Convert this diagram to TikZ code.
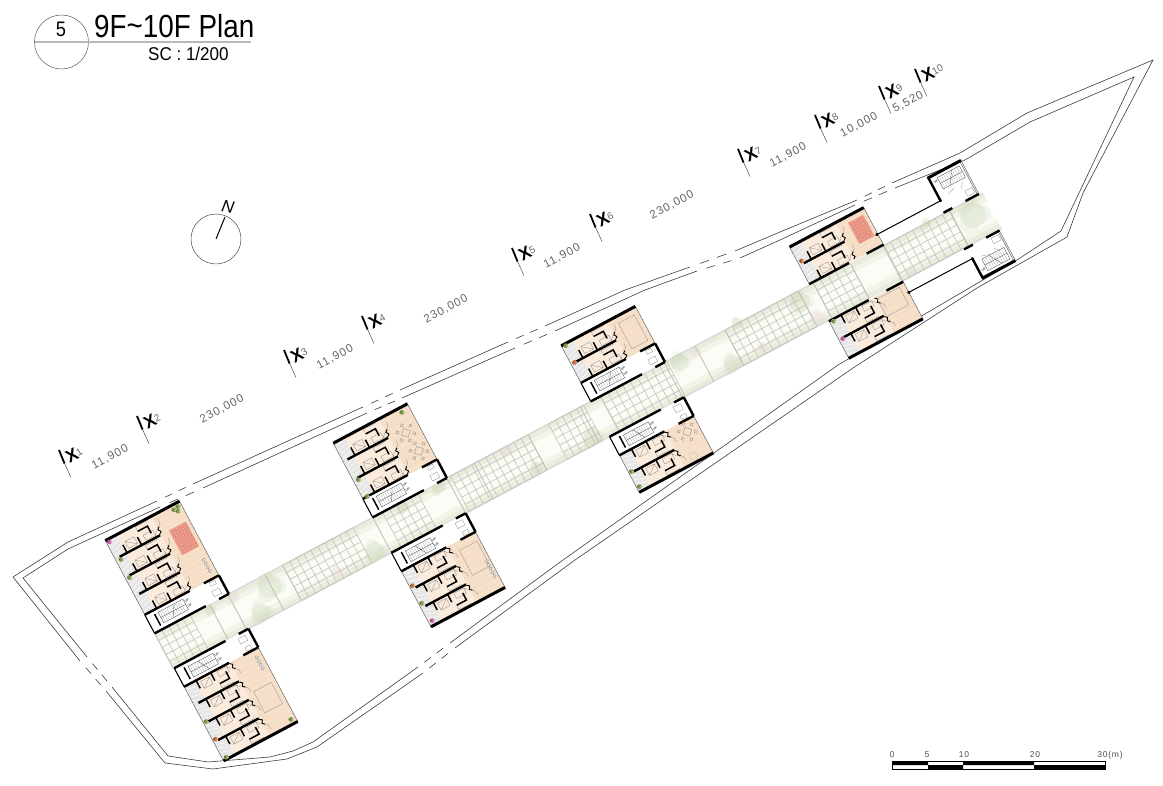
\documentclass[tikz,border=0pt]{standalone}
\usepackage{fontspec}
\setmainfont{Liberation Sans}
\newfontfamily\titlef[FakeStretch=0.87]{Liberation Sans}
\newfontfamily\subf[FakeStretch=0.92]{Liberation Sans}
\newfontfamily\dimf[LetterSpace=9]{Liberation Sans}
\usetikzlibrary{calc}
\definecolor{unitpeach}{HTML}{FBEBDC}
\definecolor{commonpeach}{HTML}{F7E0C9}
\definecolor{woodln}{HTML}{F0D5B8}
\definecolor{balc}{HTML}{E6E6E6}
\definecolor{bandmid}{HTML}{FBFCF6}
\definecolor{bandg}{HTML}{E9ECDC}
\definecolor{bandh}{HTML}{F2F4E9}
\definecolor{gridl}{HTML}{C2C2BA}
\definecolor{treeg}{HTML}{BCCAA4}
\definecolor{treep}{HTML}{E6CFD2}
\definecolor{bd}{HTML}{3C3C3C}
\definecolor{patchr}{HTML}{E99684}
\definecolor{plantg}{HTML}{7F9A4A}
\definecolor{plantp}{HTML}{C85FA0}
\definecolor{plantr}{HTML}{C9703A}
\tikzset{
  wall/.style={line width=2.4pt,black},
  farwall/.style={line width=3pt,black},
  stub/.style={line width=1.5pt,black},
  fine/.style={line width=.3pt,black!45},
  edgeln/.style={line width=.5pt,black!60},
  site/.style={line width=.6pt,bd},
  dimtxt/.style={rotate=28,font=\dimf\fontsize{11.5}{12}\selectfont,text=black!60,inner sep=0pt},
  axtxt/.style={rotate=28,font=\bfseries\fontsize{17.5}{17.5}\selectfont,inner sep=0pt},
  axnum/.style={rotate=28,font=\fontsize{10}{10}\selectfont,text=black!60,inner sep=0pt},
  tinytxt/.style={rotate=28,font=\fontsize{3.2}{3.2}\selectfont,inner sep=0pt}
}
% one dwelling row, #1 = its side nearest the corridor
\newcommand{\unitrow}[1]{
  \fill[unitpeach] (12,#1) rectangle (52,#1+21);
  \fill[balc] (0,#1) rectangle (12,#1+21);
  \foreach \q in {3,7.5,12,16.5}{\draw[white,line width=.5pt] (1,#1+\q) -- (11,#1+\q+3);}
  \draw[fine] (17,#1+3) rectangle (27,#1+11) (17,#1+11) -- (27,#1+3);
  \draw[fine] (36,#1+2) rectangle (47,#1+8) (47,#1+2) -- (50,#1+6);
  \draw[fine] (33,#1+14) -- (33,#1+19) -- (47,#1+19);
  \draw[stub] (13.5,#1) -- (13.5,#1+9);
  \draw[stub] (30,#1) -- (30,#1+9);
  \draw[stub] (33,#1+14) -- (44,#1+14) -- (44,#1+6);
  \draw[line width=.9pt] (51,#1+1) -- (53.5,#1+3) -- (51.5,#1+6) -- (54,#1+8);
  \draw[fine] (52,#1+8) arc[start angle=-90,end angle=20,radius=5];
}
\newcommand{\stairset}{
  \draw[line width=.35pt,black!70] (13,25) rectangle (41,37);
  \foreach \q in {15,17.5,...,39}{\draw[line width=.2pt,black!40] (\q,26) -- (\q,36);}
  \draw[line width=.3pt,black!70] (13,31) -- (41,31) (24,25) -- (31,37);
  \node[tinytxt] at (44,34) {UP};
  \node[tinytxt] at (44,28) {UP};
}
% #1 start along the corridor, #2 side, #3 rows, #4 1 = with stair band
\newcommand{\housing}[4]{
  \begin{scope}[shift={(#1,0)},yscale=#2]
    \ifnum#4=1 \def\bs{41}\else \def\bs{21}\fi
    \pgfmathsetmacro\bt{\bs+21*#3}
    \fill[white] (0,20) rectangle (84,\bt);
    \fill[commonpeach] (50,\bs) rectangle (84,\bt);
    \begin{scope}
      \clip (50,\bs) rectangle (84,\bt);
      \foreach \yy in {24,30,...,126}{\draw[woodln,line width=.25pt] (50,\yy) -- (84,\yy);}
    \end{scope}
    \foreach \i in {1,...,#3}{
      \pgfmathsetmacro\bz{\bs+21*(\i-1)}
      \unitrow{\bz}
    }
    \foreach \i in {2,...,#3}{
      \pgfmathsetmacro\bz{\bs+21*(\i-1)}
      \draw[wall] (5,\bz) -- (51,\bz);
    }
    \draw[edgeln] (0,20) -- (0,\bt) (84,20) -- (84,\bt);
    \draw[farwall] (0,\bt) -- (84,\bt);
    \ifnum#4=1
      \stairset
      \draw[wall] (0,\bs) -- (51,\bs);
      \draw[wall] (67,\bs) -- (84,\bs);
      \draw[wall] (84,20) -- (84,\bs);
      \draw[wall] (0,20) -- (58,20) (73,20) -- (84,20);
      \draw[line width=1pt] (0,20) -- (0,\bs);
      \draw[stub] (9,24) -- (9,37);
      \draw[fine] (70,24) rectangle (78,30) (72,35) rectangle (78,39);
    \else
      \draw[wall] (0,21) -- (45,21) (65,21) -- (84,21);
    \fi
  \end{scope}
}
% end stair core: #1 start, #2 side, #3 far wall
\newcommand{\corestair}[3]{
  \begin{scope}[shift={(#1,0)},yscale=#2]
    \draw[edgeln] (37,20) -- (37,#3) (35.5,20) -- (35.5,#3);
    \draw[farwall] (-1,#3) -- (37,#3);
    \draw[wall] (0,#3) -- (0,33);
    \draw[line width=1pt] (0,33) -- (-72,33);
    \fill (0,33) circle (1.6pt) (-72,33) circle (1.8pt);
    \draw[wall] (22,21) -- (37,21) (-3,21) -- (7,21);
    \draw[line width=.35pt,black!70] (8,#3-17) rectangle (33,#3-4);
    \foreach \q in {10,12.5,...,32}{\draw[line width=.2pt,black!40] (\q,#3-16) -- (\q,#3-5);}
    \draw[line width=.3pt,black!70] (8,#3-10.5) -- (33,#3-10.5) (16,#3-17) -- (24,#3-4);
    \draw[fine] (26,24) rectangle (34,30) (24,34) -- (28,39) (10,35) -- (18,38);
    \node[tinytxt] at (5,#3-7) {UP};
  \end{scope}
}
\newcommand{\pavegrid}[3]{% start, cells, cell length
  \begin{scope}[shift={(#1,-20)}]
    \foreach \k in {0,...,#2}{\draw[gridl,line width=.6pt] (\k*#3,0) -- (\k*#3,40);}
    \foreach \k in {0,8,...,40}{\draw[gridl,line width=.6pt] (0,\k) -- (#2*#3,\k);}
  \end{scope}
}
\newcommand{\treeblob}[4]{
  \fill[#4,opacity=.20] (#1,#2) circle (#3*.72);
  \fill[#4,opacity=.14] (#1+#3*.45,#2+#3*.2) circle (#3*.5) (#1-#3*.4,#2+#3*.3) circle (#3*.55)
     (#1,#2-#3*.5) circle (#3*.5) (#1-#3*.3,#2-#3*.35) circle (#3*.4);
}
\newcommand{\plant}[3]{
  \fill[#3] (#1,#2) circle (2.4pt);
  \fill[#3!60!white] (#1+1.4,#2+1) circle (1.2pt);
  \fill[#3!70!black] (#1-1.2,#2-.8) circle (1pt);
}
\newcommand{\bench}[3]{% a, b start, count
  \foreach \q in {1,...,#3}{\draw[line width=.4pt,black!40,fill=black!12] (#1,#2+\q*4.2) circle (1.8pt);}
}
\newcommand{\tabled}[4]{\draw[line width=.35pt,black!40] (#1,#2) rectangle (#3,#4);}
\newcommand{\roundset}[2]{
  \draw[line width=.35pt,black!45] (#1-5,#2) -- (#1,#2-5) -- (#1+5,#2) -- (#1,#2+5) -- cycle;
  \foreach \q in {30,90,...,330}{\draw[line width=.35pt,black!45] ($(#1,#2)+(\q:8.5)$) circle (1.7pt);}
}
\newcommand{\redpatch}[4]{
  \fill[patchr] (#1,#2) rectangle (#3,#4);
  \foreach \r in {0,1,...,5}{\foreach \s in {0,1,...,7}{
     \fill[white,opacity=.45] ($(#1+1.5,#2+1.5)+(\r*3.0,\s*3.3)$) circle (.5pt);
     \fill[red!55!black,opacity=.35] ($(#1+2.5,#2+3)+(\r*3.0,\s*3.0)$) circle (.45pt);}}
}
\newcommand{\gapd}[2]{\draw[site] ($#1!.22!#2$) -- ($#1!.42!#2$) ($#1!.6!#2$) -- ($#1!.8!#2$);}
\newcommand{\axmark}[3]{
  \draw[line width=1.8pt] (#1,#2) -- (#1+5.6,#2+13.6);
  \draw[line width=.5pt,black!70] (#1+5.6,#2+13.6) -- (#1+12,#2+27.5);
  \node[axtxt] (xl#3) at (#1+13,#2+5.2) {X};
  \node[axnum,anchor=west] (xn#3) at (#1+17.5,#2+3.5) {#3};
}
\begin{document}
\begin{tikzpicture}[x=1pt,y=-1pt]
\useasboundingbox (0,0) rectangle (1163,786);

% site boundary
\draw[site] (80,661) -- (13,577) -- (68,542) -- (157,501);
\draw[site] (193,484) -- (363,407);
\draw[site] (400,390) -- (490,350) -- (508,342);
\draw[site] (545,326) -- (625,290) -- (690,267);
\draw[site] (735,251) -- (780,232) -- (857,200);
\draw[site] (892,183) -- (960,153) -- (1027,113) -- (1153,60) -- (1083,193) -- (1067,237) -- (977,288) -- (853,368) -- (575,560) -- (455,648);
\draw[site] (423,673) -- (317,747) -- (287,759) -- (213,769) -- (165,763) -- (106,691);
\draw[site] (87,657) -- (23,578) -- (68,549) -- (160,507);
\draw[site] (203,488) -- (367,413);
\draw[site] (402,398) -- (490,359) -- (515,348);
\draw[site] (555,331) -- (645,290) -- (697,271);
\draw[site] (740,258) -- (780,240) -- (855,205);
\draw[site] (895,188) -- (965,160) -- (1030,122) -- (1134,77) -- (1061,231) -- (1017,260) -- (838,365) -- (563,560) -- (450,643);
\draw[site] (418,667) -- (313,742) -- (293,751) -- (270,757) -- (208,762) -- (168,756) -- (112,687);
\gapd{(80,661)}{(106,691)}
\gapd{(87,657)}{(112,687)}
\gapd{(157,501)}{(193,484)}
\gapd{(160,507)}{(203,488)}
\gapd{(363,407)}{(400,390)}
\gapd{(367,413)}{(402,398)}
\gapd{(508,342)}{(545,326)}
\gapd{(515,348)}{(555,331)}
\gapd{(690,267)}{(735,251)}
\gapd{(697,271)}{(740,258)}
\gapd{(857,200)}{(892,183)}
\gapd{(855,205)}{(895,188)}
\gapd{(455,648)}{(423,673)}
\gapd{(450,643)}{(418,667)}

% the plan, in the frame of the corridor
\begin{scope}[shift={(164,651)},rotate=28]
  \fill[bandmid] (0,-20) rectangle (938,20);
  \fill[bandh] (0,-20) rectangle (938,-10) (0,10) rectangle (938,20);
  \fill[bandg] (0,-20) rectangle (938,-15) (0,15) rectangle (938,20);
  \draw[line width=1.4pt,black!15] (0,-20) -- (938,-20) (0,20) -- (938,20) (0,-20) -- (0,20);
  \foreach \u in {62,83,125,145,247,331,362,423,482,505,577,612,646,729,746,788,826,900}{
     \draw[gridl,line width=.9pt] (\u,-20) -- (\u,20);
  }
  \pavegrid{0}{5}{8}
  \pavegrid{145}{10}{8}
  \pavegrid{258}{5}{8}
  \pavegrid{335}{11}{8}
  \pavegrid{446}{5}{8}
  \pavegrid{505}{9}{8.3}
  \pavegrid{646}{10}{8.3}
  \pavegrid{746}{5}{8.4}
  \pavegrid{825}{9}{8.4}
  \treeblob{124}{-7}{16}{treeg}
  \treeblob{104}{12}{13}{treeg}
  \treeblob{85}{-15}{8}{treep}
  \treeblob{60}{-14}{7}{treeg}
  \treeblob{190}{11}{7}{treep}
  \treeblob{233}{11}{13}{treeg}
  \treeblob{278}{-15}{8}{treeg}
  \treeblob{319}{-16}{9}{treeg}
  \treeblob{397}{-16}{7}{treep}
  \treeblob{415}{13}{8}{treeg}
  \treeblob{479}{12}{12}{treeg}
  \treeblob{591}{-13}{12}{treeg}
  \treeblob{609}{-14}{7}{treep}
  \treeblob{637}{13}{12}{treeg}
  \treeblob{660}{-21}{7}{treeg}
  \treeblob{671}{13}{7}{treep}
  \treeblob{725}{-9}{14}{treeg}
  \treeblob{733}{12}{9}{treep}
  \treeblob{838}{16}{6}{treep}
  \treeblob{874}{-20}{6}{treeg}
  \treeblob{919}{-5}{18}{treeg}

  % A
  \housing{0}{-1}{4}{1}
  \redpatch{61}{-104}{80}{-76}
  \bench{78}{-66}{4}
  \plant{78}{-117}{plantg}
  \plant{75}{-120}{plantg}
  \plant{80}{-121}{plantg}
  \plant{3}{-122}{plantp}
  \plant{5}{-101}{plantg}
  \plant{4}{-81}{plantg}
  % B
  \housing{1}{1}{4}{1}
  \tabled{60}{78}{80}{102}
  \bench{79}{45}{4}
  \plant{80}{120}{plantg}
  \plant{5}{123}{plantg}
  \plant{4}{102}{plantr}
  \plant{4}{82}{plantg}
  % C
  \housing{247}{-1}{3}{1}
  \roundset{316}{-79}
  \roundset{319}{-57}
  \plant{322}{-99}{plantg}
  \plant{252}{-60}{plantg}
  \plant{252}{-41}{plantg}
  % D
  \housing{247}{1}{3}{1}
  \tabled{308}{50}{328}{78}
  \bench{327}{68}{5}
  \plant{251}{99}{plantp}
  \plant{250}{79}{plantg}
  \plant{250}{59}{plantr}
  % E
  \housing{494}{-1}{2}{1}
  \tabled{555}{-76}{573}{-47}
  \plant{498}{-81}{plantg}
  \plant{498}{-62}{plantr}
  % F
  \housing{494}{1}{2}{1}
  \roundset{565}{52}
  \draw[line width=.35pt,black!25] (559,77) circle (4pt);
  \plant{497}{61}{plantg}
  \plant{497}{78}{plantg}
  % G
  \housing{742}{-1}{2}{0}
  \redpatch{805}{-57}{822}{-33}
  \plant{746}{-45}{plantr}
  % H
  \housing{742}{1}{2}{0}
  \tabled{795}{24}{820}{44}
  \plant{746}{23}{plantg}
  \plant{746}{43}{plantp}
  % end cores
  \corestair{897}{-1}{59}
  \corestair{898}{1}{55}
\end{scope}

% title
\draw[line width=.5pt,black!65] (61.5,42) circle (27);
\draw[line width=1.3pt,black!28] (35,42) -- (251,42);
\node[inner sep=0pt,anchor=base,font=\titlef\fontsize{21}{21}\selectfont] (sheetno) at (61,37) {5};
\node[inner sep=0pt,anchor=base west,font=\titlef\fontsize{32}{32}\selectfont] (titletxt) at (94,38) {9F\raisebox{1pt}{\char"007E}10F Plan};
\node[inner sep=0pt,anchor=base west,font=\subf\fontsize{18.5}{18.5}\selectfont] (scaletxt) at (148,61) {SC : 1/200};

% north
\draw[line width=.5pt,black!70] (216,239) circle (25);
\draw[line width=1pt] (216,239) -- (225,217);
\node[inner sep=0pt,rotate=-10,font=\itshape\fontsize{17}{17}\selectfont] (northtxt) at (228,207) {N};

% grid axes
\axmark{59}{450}{1}
\axmark{137}{416}{2}
\axmark{284}{350}{3}
\axmark{362}{316}{4}
\axmark{512}{248}{5}
\axmark{590}{214}{6}
\axmark{738}{149}{7}
\axmark{815}{115}{8}
\axmark{879}{86}{9}
\axmark{915}{69}{10}
\node[dimtxt] (d1) at (110,457) {11,900};
\node[dimtxt] (d2) at (222,409) {230,000};
\node[dimtxt] (d3) at (335,357) {11,900};
\node[dimtxt] (d4) at (446,309) {230,000};
\node[dimtxt] (d5) at (562,256) {11,900};
\node[dimtxt] (d6) at (672,205) {230,000};
\node[dimtxt] (d7) at (788,155) {11,900};
\node[dimtxt] (d8) at (859,125) {10,000};
\node[dimtxt] (d9) at (908,102) {5,520};

% scale bar
\fill (892,761) rectangle (928,765) (928,765) rectangle (963,769) (963,761) rectangle (1034,765) (1034,765) rectangle (1105,769);
\draw[line width=.5pt] (892,761) rectangle (1105,769);
\foreach \n/\xx/\lab in {s0/892/0,s5/927/5,s10/964/10,s20/1035/20,s30/1110/30(m)}{
  \node[inner sep=0pt,anchor=base,font=\dimf\fontsize{8.5}{9}\selectfont,text=black!70] (\n) at (\xx,757) {\lab};
}
\end{tikzpicture}
\end{document}
